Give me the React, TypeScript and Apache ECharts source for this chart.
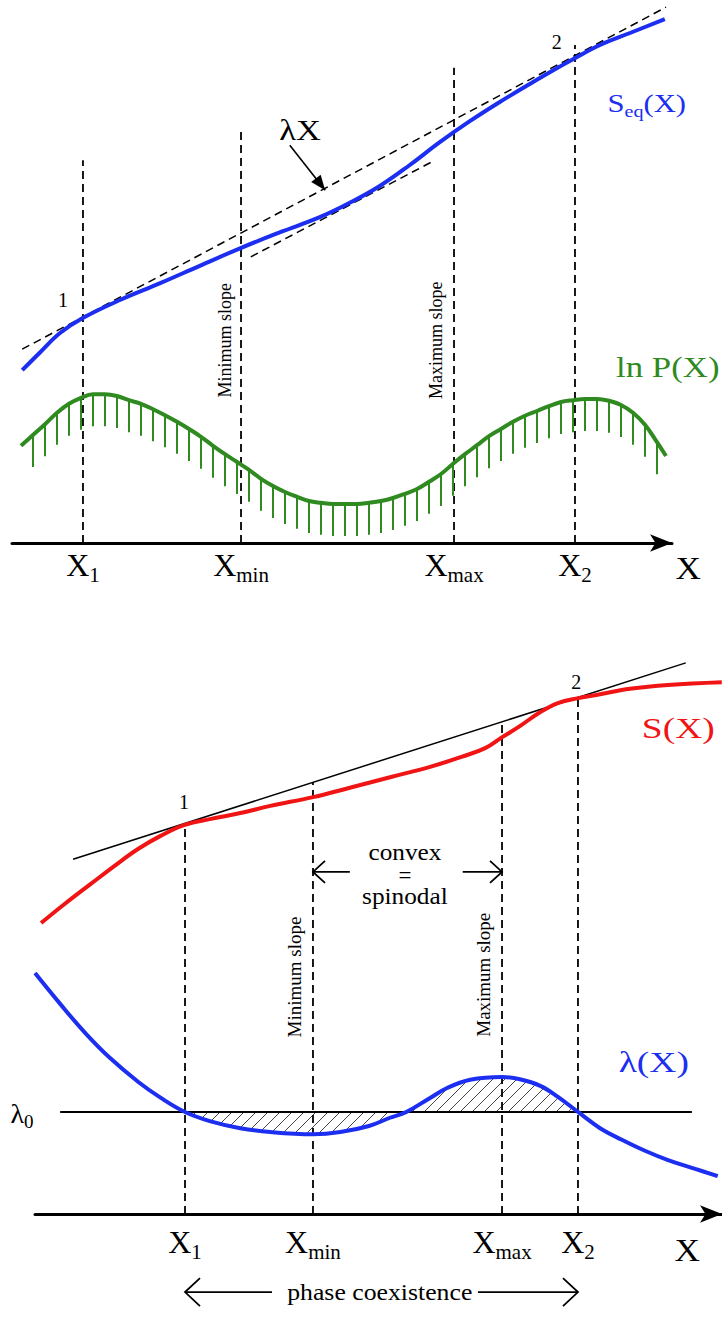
import React, { useEffect, useRef } from "react";
import * as echarts from "echarts";

const SERIF = '"Liberation Serif", "Times New Roman", "DejaVu Serif", serif';
const BLUE = "#1c2ef0";
const GREEN = "#2f8a1f";
const RED = "#f01414";
const INK = "#000000";

// ---------------- Panel 1 (top) ----------------
const P1_MARK_X = [11.83, 38.17, 73.67, 93.83]; // X1, Xmin, Xmax, X2
const P1_MARK_TOP = [63.8, 69.2, 79.2, 83.0];
const MARK_SUBS = ["1", "min", "max", "2"];

const SEQ_X = [1.7, 4.7, 8.0, 11.8, 18.0, 24.7, 31.3, 38.2, 44.7, 51.3, 56.3, 61.3, 66.3, 71.3, 76.3, 81.3, 86.3, 91.3, 93.8, 98.0, 103.0, 108.8];
const SEQ_Y = [28.8, 31.8, 35.0, 37.5, 40.5, 43.3, 46.2, 49.2, 51.8, 54.3, 56.7, 59.5, 63.0, 66.8, 70.3, 73.5, 76.5, 79.4, 80.8, 83.0, 85.0, 87.3];

const LAMBDA_LINE_X = [1.7, 109.0];
const LAMBDA_LINE_Y = [32.3, 89.3];
const INNER_TANGENT_X = [39.8, 70.5];
const INNER_TANGENT_Y = [47.7, 63.8];

const LNP: [number, number][] = [
  [1.5, 16.2], [3.5, 18.0], [5.5, 19.8], [7.5, 21.7], [9.5, 23.2], [11.5, 24.2], [13.5, 24.8], [15.5, 24.8],
  [17.5, 24.5], [19.5, 23.8], [21.5, 23.2], [23.5, 22.3], [25.5, 21.3], [27.5, 20.2], [29.5, 19.0], [31.5, 17.7],
  [33.5, 16.2], [35.5, 14.8], [37.5, 13.5], [39.5, 12.2], [41.5, 10.7], [43.5, 9.5], [45.5, 8.5], [47.5, 7.7],
  [49.5, 7.0], [51.5, 6.7], [53.5, 6.5], [55.5, 6.5], [57.5, 6.5], [59.5, 6.7], [61.5, 7.0], [63.5, 7.5],
  [65.5, 8.2], [67.5, 9.0], [69.5, 10.2], [71.5, 11.5], [73.5, 13.2], [75.5, 14.8], [77.5, 16.3], [79.5, 17.8],
  [81.5, 19.0], [83.5, 20.2], [85.5, 21.2], [87.5, 22.0], [89.5, 22.8], [91.5, 23.5], [93.5, 23.8], [95.5, 24.0],
  [97.5, 24.0], [99.5, 23.7], [101.5, 23.0], [103.5, 21.7], [105.5, 19.7], [107.5, 16.8], [109.0, 14.5],
];

// ---------------- Panel 2 (bottom) ----------------
const P2_MARK_X = [22.06, 40.88, 68.68, 79.85];
const P2_MARK_TOP = [71.1, 78.55, 89.45, 93.8];

const S_X = [0.9, 4.4, 8.4, 11.8, 15.2, 18.4, 21.9, 25.7, 30.2, 34.6, 40.9, 46.3, 52.5, 58.1, 62.7, 66.2, 68.7, 71.3, 74.1, 76.9, 79.9, 83.1, 87.5, 93.1, 101.0];
const S_Y = [52.9, 56.4, 60.2, 63.4, 66.4, 68.7, 70.7, 71.8, 72.9, 74.2, 75.8, 77.5, 79.5, 81.3, 83.1, 84.7, 86.7, 88.7, 91.1, 92.9, 93.8, 94.5, 95.5, 96.2, 96.7];

const TANGENT2_X = [5.6, 95.7];
const TANGENT2_Y = [64.5, 100.2];

const LAM_X = [0, 3.7, 7.4, 11.0, 15.2, 18.4, 22.06, 25.7, 30.2, 34.6, 40.9, 44.9, 49.1, 52.2, 54.6, 58.1, 60.6, 64.0, 68.7, 71.3, 74.3, 76.9, 79.85, 83.1, 86.3, 89.7, 93.1, 97.1, 100.4];
const LAM_Y = [43.8, 38.2, 32.9, 28.4, 24.0, 21.2, 18.55, 16.9, 15.6, 14.9, 14.5, 14.9, 16.0, 17.5, 18.55, 21.1, 22.9, 24.4, 24.9, 24.5, 23.3, 21.3, 18.55, 15.6, 13.5, 11.5, 9.8, 8.2, 6.9];
const LAMBDA0 = 18.55;
const LAMBDA0_X = [3.7, 96.6];

const P1_XMAX = 110;
const P2_XMAX = 101.03;

function pairs(xs: number[], ys: number[]) {
  return xs.map((x, i) => [x, ys[i]]);
}

function lineSeries(axis: number, data: number[][], color: string, width: number, extra: any = {}) {
  return {
    type: "line",
    xAxisIndex: axis,
    yAxisIndex: axis,
    data,
    showSymbol: false,
    symbol: "none",
    clip: false,
    silent: true,
    lineStyle: { color, width, ...(extra.lineStyle || {}) },
    ...Object.fromEntries(Object.entries(extra).filter(([k]) => k !== "lineStyle")),
  };
}

function xAxisFor(gridIndex: number, max: number, marks: number[], margin: number) {
  return {
    type: "value",
    gridIndex,
    min: 0,
    max,
    axisLine: {
      show: true,
      onZero: false,
      symbol: ["none", "arrow"],
      symbolSize: [13, 22],
      lineStyle: { color: INK, width: 3 },
    },
    axisTick: { show: false },
    splitLine: { show: false },
    axisLabel: {
      customValues: marks,
      margin,
      hideOverlap: false,
      formatter: (v: number) => {
        const i = marks.findIndex((m) => Math.abs(m - v) < 1e-6);
        return i < 0 ? "" : `{m|X}{s|${MARK_SUBS[i]}}`;
      },
      rich: {
        m: { fontFamily: SERIF, fontSize: 32, color: INK, lineHeight: 32 },
        s: { fontFamily: SERIF, fontSize: 21, color: INK, lineHeight: 21, padding: [20, 0, 0, 0] },
      },
    },
  };
}

export default function App() {
  const ref = useRef<HTMLDivElement>(null);

  useEffect(() => {
    const el = ref.current!;
    const chart = echarts.init(el, null, { renderer: "svg" });

    const hatch = document.createElement("canvas");
    hatch.width = 12;
    hatch.height = 12;
    const g = hatch.getContext("2d")!;
    g.strokeStyle = "#444";
    g.lineWidth = 1;
    g.beginPath();
    g.moveTo(0, 12);
    g.lineTo(12, 0);
    g.moveTo(-2, 2);
    g.lineTo(2, -2);
    g.moveTo(10, 14);
    g.lineTo(14, 10);
    g.stroke();

    const dashed = { type: [8, 5] as any };
    const series: any[] = [];

    // Panel 1 vertical dashed guides
    P1_MARK_X.forEach((x, i) => {
      series.push(lineSeries(0, [[x, 0], [x, P1_MARK_TOP[i]]], INK, 1.8, { lineStyle: dashed, z: 2 }));
    });
    // tangents
    series.push(lineSeries(0, pairs(LAMBDA_LINE_X, LAMBDA_LINE_Y), INK, 1.5, { lineStyle: dashed, z: 2 }));
    series.push(lineSeries(0, pairs(INNER_TANGENT_X, INNER_TANGENT_Y), INK, 1.5, { lineStyle: dashed, z: 2 }));
    // Seq curve
    series.push(lineSeries(0, pairs(SEQ_X, SEQ_Y), BLUE, 4, { smooth: 0.4, z: 4 }));
    // ln P curve
    series.push(lineSeries(0, LNP, GREEN, 4, { smooth: 0.4, z: 4 }));
    // hatch ticks under ln P
    series.push({
      type: "custom",
      xAxisIndex: 0,
      yAxisIndex: 0,
      silent: true,
      z: 3,
      data: LNP.slice(1, -1),
      renderItem: (params: any, api: any) => {
        const p = api.coord([api.value(0), api.value(1)]);
        return {
          type: "line",
          shape: { x1: p[0], y1: p[1], x2: p[0], y2: p[1] + 32 },
          style: { stroke: GREEN, lineWidth: 2 },
        };
      },
    });

    // Panel 2
    P2_MARK_X.forEach((x, i) => {
      series.push(lineSeries(1, [[x, 0], [x, P2_MARK_TOP[i]]], INK, 1.8, { lineStyle: dashed, z: 2 }));
    });
    series.push(lineSeries(1, pairs(TANGENT2_X, TANGENT2_Y), INK, 1.5, { z: 3 }));
    series.push(lineSeries(1, pairs(S_X, S_Y), RED, 4, { smooth: 0.4, z: 4 }));
    const lamPairs = pairs(LAM_X, LAM_Y);
    const hatchPairs = lamPairs.filter((p) => p[0] >= P2_MARK_X[0] - 1e-6 && p[0] <= P2_MARK_X[3] + 1e-6);
    series.push(
      lineSeries(1, hatchPairs, BLUE, 0, {
        smooth: 0.4,
        z: 1,
        lineStyle: { opacity: 0 },
        areaStyle: { color: { image: hatch, repeat: "repeat" }, origin: LAMBDA0, opacity: 1 },
      })
    );
    series.push(lineSeries(1, LAMBDA0_X.map((x) => [x, LAMBDA0]), INK, 2, { z: 3 }));
    series.push(lineSeries(1, lamPairs, BLUE, 4, { smooth: 0.4, z: 4 }));

    const option: any = {
      animation: false,
      backgroundColor: "#ffffff",
      grid: [
        { left: 12, top: 3, width: 660, height: 540, outerBoundsMode: "none", containLabel: false },
        { left: 35, top: 664, width: 687, height: 550, outerBoundsMode: "none", containLabel: false },
      ],
      xAxis: [xAxisFor(0, P1_XMAX, P1_MARK_X, 6), xAxisFor(1, P2_XMAX, P2_MARK_X, 12)],
      yAxis: [
        { type: "value", gridIndex: 0, min: 0, max: 90, show: false },
        { type: "value", gridIndex: 1, min: 0, max: 100, show: false },
      ],
      series,
    };
    chart.setOption(option);

    const c1 = (x: number, y: number) => chart.convertToPixel({ gridIndex: 0 } as any, [x, y]) as number[];
    const c2 = (x: number, y: number) => chart.convertToPixel({ gridIndex: 1 } as any, [x, y]) as number[];

    const T = (p: number[], text: string, size: number, color: string, opts: any = {}) => ({
      type: "text",
      x: p[0],
      y: p[1],
      rotation: opts.rot || 0,
      scaleX: opts.sx || 1,
      silent: true,
      z: 10,
      style: {
        text,
        fill: color,
        fontSize: size,
        fontFamily: SERIF,
        align: "center",
        verticalAlign: "middle",
        rich: opts.rich,
      },
    });

    const head = (tip: number[], from: number[], len: number, half: number) => {
      const dx = tip[0] - from[0];
      const dy = tip[1] - from[1];
      const L = Math.hypot(dx, dy);
      const ux = dx / L;
      const uy = dy / L;
      const bx = tip[0] - ux * len;
      const by = tip[1] - uy * len;
      return [
        [bx - uy * half, by + ux * half],
        [tip[0], tip[1]],
        [bx + uy * half, by - ux * half],
      ];
    };
    const openArrow = (from: number[], tip: number[], len: number, half: number) => [
      { type: "line", silent: true, z: 10, shape: { x1: from[0], y1: from[1], x2: tip[0], y2: tip[1] }, style: { stroke: INK, lineWidth: 1.8 } },
      { type: "polyline", silent: true, z: 10, shape: { points: head(tip, from, len, half) }, style: { stroke: INK, lineWidth: 1.8, fill: "none" } },
    ];

    const lamFrom = c1(46.3, 66.3);
    const lamTip = c1(52.2, 58.8);

    const graphic: any[] = [
      // panel 1 texts
      T(c1(48, 68.8), "λX", 30, INK, { sx: 1.15 }),
      T(c1(8.5, 40.5), "1", 20, INK),
      T(c1(90.8, 83.5), "2", 20, INK),
      T(c1(105.8, 73.3), "{a|S}{b|eq}{a|(X)}", 26, BLUE, {
        sx: 1.18,
        rich: {
          a: { fontFamily: SERIF, fontSize: 26, fill: BLUE, color: BLUE, lineHeight: 28 },
          b: { fontFamily: SERIF, fontSize: 17, fill: BLUE, color: BLUE, lineHeight: 17, padding: [15, 0, 0, 0] },
        },
      }),
      T(c1(109.3, 29.3), "ln P(X)", 29, GREEN, { sx: 1.2 }),
      T(c1(35.5, 33.8), "Minimum slope", 18, INK, { rot: Math.PI / 2 }),
      T(c1(70.7, 33.8), "Maximum slope", 18, INK, { rot: Math.PI / 2 }),
      T(c1(112.7, -4.2), "X", 32, INK, { sx: 1.1 }),
      { type: "line", silent: true, z: 10, shape: { x1: lamFrom[0], y1: lamFrom[1], x2: lamTip[0], y2: lamTip[1] }, style: { stroke: INK, lineWidth: 1.6 } },
      { type: "polygon", silent: true, z: 10, shape: { points: head(lamTip, lamFrom, 15, 6) }, style: { fill: INK } },
      // panel 2 texts
      T(c2(21.9, 74.9), "1", 20, INK),
      T(c2(79.6, 96.7), "2", 20, INK),
      T(c2(94.6, 88.4), "S(X)", 30, RED, { sx: 1.25 }),
      T(c2(91.0, 27.6), "λ(X)", 30, BLUE, { sx: 1.25 }),
      T(c2(-1.9, 18.3), "{a|λ}{b|0}", 28, INK, {
        rich: {
          a: { fontFamily: SERIF, fontSize: 28, color: INK, lineHeight: 30 },
          b: { fontFamily: SERIF, fontSize: 19, color: INK, lineHeight: 19, padding: [17, 0, 0, 0] },
        },
      }),
      T(c2(54.4, 65.8), "convex", 23, INK, { sx: 1.1 }),
      T(c2(54.4, 61.6), "=", 23, INK),
      T(c2(54.4, 57.9), "spinodal", 23, INK, { sx: 1.1 }),
      T(c2(38.2, 43.1), "Minimum slope", 19, INK, { rot: Math.PI / 2 }),
      T(c2(65.9, 43.5), "Maximum slope", 19, INK, { rot: Math.PI / 2 }),
      T(c2(50.7, -14.2), "phase coexistence", 23, INK, { sx: 1.12 }),
      T(c2(95.9, -6.6), "X", 32, INK, { sx: 1.1 }),
      ...openArrow(c2(46.3, 62.2), c2(P2_MARK_X[1], 62.2), 12, 11),
      ...openArrow(c2(62.9, 62.2), c2(P2_MARK_X[2], 62.2), 12, 11),
      ...openArrow(c2(34.85, -14.2), c2(P2_MARK_X[0], -14.2), 15, 14),
      ...openArrow(c2(65.15, -14.2), c2(P2_MARK_X[3], -14.2), 15, 14),
    ];
    chart.setOption({ graphic });

    return () => chart.dispose();
  }, []);

  return (
    <div
      ref={ref}
      style={{ position: "absolute", left: 0, top: 0, width: 722, height: 1320, background: "#ffffff" }}
    />
  );
}
